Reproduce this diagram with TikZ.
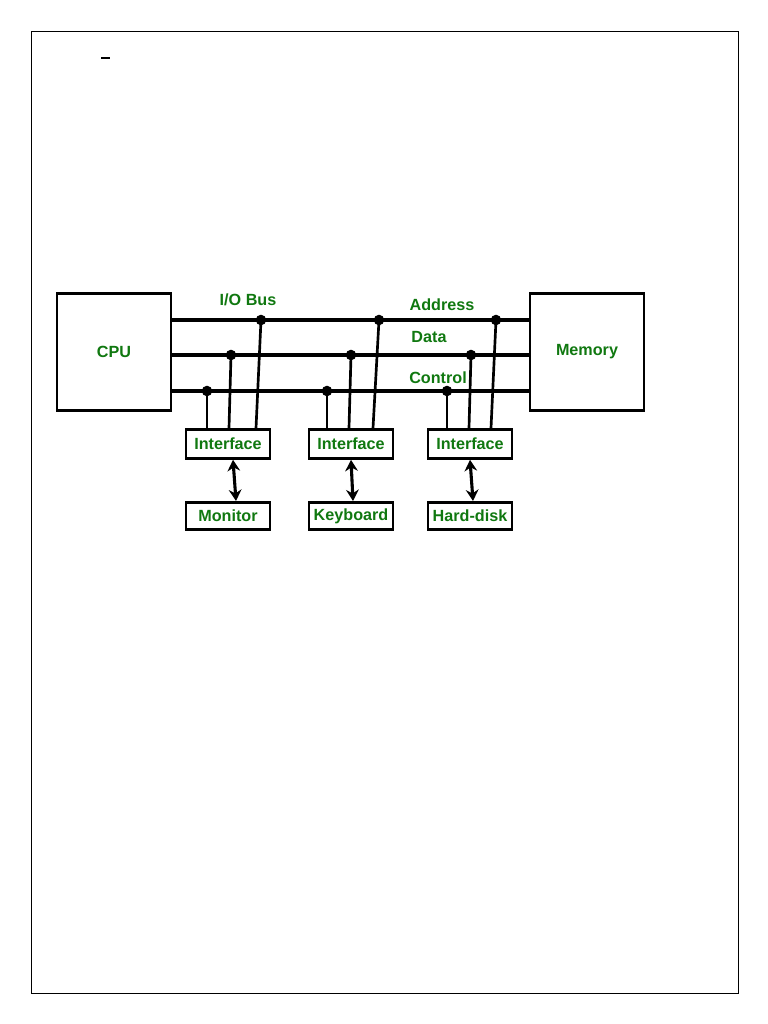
\documentclass[tikz,border=0pt]{standalone}
\usepackage{fontspec}
\setmainfont{Liberation Sans}
\usetikzlibrary{arrows.meta,calc}
\definecolor{labelgreen}{RGB}{16,120,16}
\begin{document}
\begin{tikzpicture}[
        x=0.025cm, y=-0.025cm,
        unit/.style={rectangle, draw, line width=2pt, minimum width=2.85cm, minimum height=2.93cm, inner sep=0pt, font=\bfseries\fontsize{11.5}{13}\selectfont, text=labelgreen},
        iface/.style={rectangle, draw, line width=2pt, minimum width=2.1cm, minimum height=0.72cm, inner sep=0pt, font=\bfseries\fontsize{11.5}{13}\selectfont, text=labelgreen},
        device/.style={rectangle, draw, line width=2pt, minimum width=2.1cm, minimum height=0.68cm, inner sep=0pt, font=\bfseries\fontsize{11.5}{13}\selectfont, text=labelgreen},
        buslabel/.style={font=\bfseries\fontsize{11.5}{13}\selectfont, text=labelgreen, inner sep=0pt},
        bus/.style={line width=2.4pt},
        tap/.style={line width=1.9pt},
        link/.style={line width=2.2pt, {Stealth[length=8pt,width=9pt]}-{Stealth[length=8pt,width=9pt]}},
        dot/.style={circle, fill, inner sep=0pt, minimum size=7.5pt}
    ]
        \useasboundingbox (0,0) rectangle (768,1024);
        % Page frame
        \draw[line width=0.6pt] (31,31) rectangle (738,993);
        \draw[line width=0.8pt] (101,58) -- (110,58);

        % Units
        \node[unit] (cpu) at (114,352) {CPU};
        \node[unit] (mem) at (587,352) {Memory};

        % Bus lines
        \coordinate (addr) at (0,320);
        \coordinate (data) at (0,355);
        \coordinate (ctrl) at (0,391);
        \draw[bus] (cpu.east |- addr) -- (mem.west |- addr);
        \draw[bus] (cpu.east |- data) -- (mem.west |- data);
        \draw[bus] (cpu.east |- ctrl) -- (mem.west |- ctrl);
        \node[buslabel] (iobus) at (248,300) {I/O Bus};
        \node[buslabel] (addrlbl) at (442,305) {Address};
        \node[buslabel] (datalbl) at (429,337) {Data};
        \node[buslabel] (ctrllbl) at (438,378) {Control};

        % Interfaces
        \node[iface] (if1) at (228,444) {Interface};
        \node[iface] (if2) at (351,444) {Interface};
        \node[iface] (if3) at (470,444) {Interface};

        % Devices
        \node[device] (mon) at (228,516) {Monitor};
        \node[device] (kbd) at (351,516) {Keyboard};
        \node[device] (hdd) at (470,516) {Hard-disk};

        % Taps on the bus
        \node[dot] (c1) at (207,391) {};
        \node[dot] (d1) at (231,355) {};
        \node[dot] (a1) at (261,320) {};
        \node[dot] (c2) at (327,391) {};
        \node[dot] (d2) at (351,355) {};
        \node[dot] (a2) at (379,320) {};
        \node[dot] (c3) at (447,391) {};
        \node[dot] (d3) at (471,355) {};
        \node[dot] (a3) at (496,320) {};

        \draw[tap] (c1.center) -- (if1.north -| c1);
        \draw[tap] (d1.center) -- ($(if1.north)+(1,0)$);
        \draw[tap] (a1.center) -- ($(if1.north)+(28,0)$);
        \draw[tap] (c2.center) -- (if2.north -| c2);
        \draw[tap] (d2.center) -- ($(if2.north)+(-2,0)$);
        \draw[tap] (a2.center) -- ($(if2.north)+(22,0)$);
        \draw[tap] (c3.center) -- (if3.north -| c3);
        \draw[tap] (d3.center) -- ($(if3.north)+(-1,0)$);
        \draw[tap] (a3.center) -- ($(if3.north)+(21,0)$);

        % Interface to device
        \draw[link] ($(if1.south)+(5,0)$) -- ($(mon.north)+(8,0)$);
        \draw[link] (if2.south) -- ($(kbd.north)+(2,0)$);
        \draw[link] (if3.south) -- ($(hdd.north)+(3,0)$);
    \end{tikzpicture}
\end{document}
